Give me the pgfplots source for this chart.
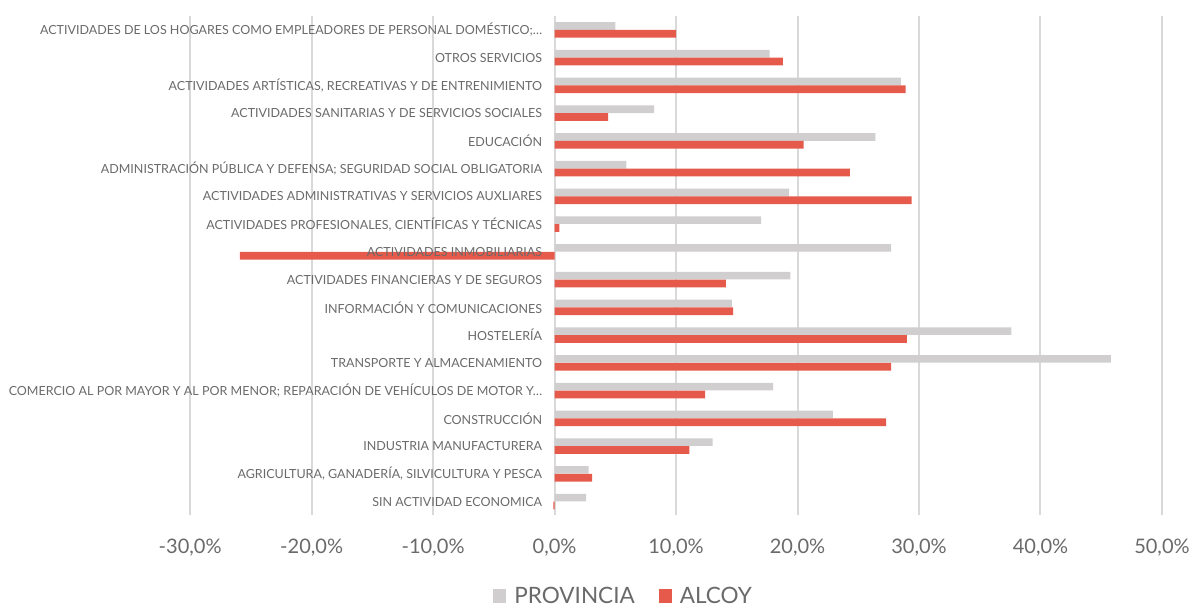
\documentclass[border=0pt]{standalone}
\usepackage{pgfplots}
\pgfplotsset{compat=1.18}
\usepackage{fontspec}
\setmainfont{Lato}
\definecolor{prov}{HTML}{D0CECE}
\definecolor{alc}{HTML}{E65A4B}
\definecolor{txt}{HTML}{6A6A6A}
\definecolor{grd}{HTML}{D9D9D9}
\pgfplotsset{
  layers/labels top/.define layer set={
    axis background,axis grid,axis ticks,axis lines,main,axis tick labels,
    axis descriptions,axis foreground}{/pgfplots/layers/standard},
}

\begin{document}
\begin{tikzpicture}
\begin{axis}[
    set layers=labels top,
    scale only axis, width=971pt, height=499pt,
    xbar, bar width=7.6pt,
    xmin=-30, xmax=50, ymin=-0.5, ymax=17.5,
    y dir=reverse,
    axis y line*=middle, axis x line*=bottom,
    x axis line style={draw=none},
    y axis line style={draw=grd, line width=2pt},
    xtick={-30,-20,...,50},
    xticklabel={\pgfmathprintnumber[fixed,fixed zerofill,precision=1,use comma]{\tick}\%},
    /pgf/number format/assume math mode=true,
    xticklabel style={font=\fontsize{20}{20}\selectfont, text=txt, yshift=-20pt},
    ytick={0,...,17},
    yticklabels={
      {ACTIVIDADES DE LOS HOGARES COMO EMPLEADORES DE PERSONAL DOMÉSTICO;…},
      {OTROS SERVICIOS},
      {ACTIVIDADES ARTÍSTICAS, RECREATIVAS Y DE ENTRENIMIENTO},
      {ACTIVIDADES SANITARIAS Y DE SERVICIOS SOCIALES},
      {EDUCACIÓN},
      {ADMINISTRACIÓN PÚBLICA Y DEFENSA; SEGURIDAD SOCIAL OBLIGATORIA},
      {ACTIVIDADES ADMINISTRATIVAS Y SERVICIOS AUXLIARES},
      {ACTIVIDADES PROFESIONALES, CIENTÍFICAS Y TÉCNICAS},
      {ACTIVIDADES INMOBILIARIAS},
      {ACTIVIDADES FINANCIERAS Y DE SEGUROS},
      {INFORMACIÓN Y COMUNICACIONES},
      {HOSTELERÍA},
      {TRANSPORTE Y ALMACENAMIENTO},
      {COMERCIO AL POR MAYOR Y AL POR MENOR; REPARACIÓN DE VEHÍCULOS DE MOTOR Y…},
      {CONSTRUCCIÓN},
      {INDUSTRIA MANUFACTURERA},
      {AGRICULTURA, GANADERÍA, SILVICULTURA Y PESCA},
      {SIN ACTIVIDAD ECONOMICA}},
    yticklabel style={font=\fontsize{12.5}{12.5}\selectfont, text=txt, xshift=-9pt},
    major tick length=0pt,
    xmajorgrids, grid style={draw=grd, line width=2pt},
    legend style={at={(0.446,-0.136)}, anchor=north, draw=none, legend columns=-1,
      font=\fontsize{22.5}{22.5}\selectfont, text=txt,
      /tikz/every even column/.append style={column sep=22pt}},
    legend image code/.code={\fill[#1] (0pt,-7pt) rectangle (13pt,7pt);},
]
\addplot[fill=prov, draw=none, bar shift=3.9pt] coordinates {
(5.0,0) (17.7,1) (28.5,2) (8.2,3) (26.4,4) (5.9,5) (19.3,6) (17.0,7) (27.7,8)
(19.4,9) (14.6,10) (37.6,11) (45.8,12) (18.0,13) (22.9,14) (13.0,15) (2.8,16) (2.6,17)};
\addplot[fill=alc, draw=none, bar shift=-3.9pt] coordinates {
(10.0,0) (18.8,1) (28.9,2) (4.4,3) (20.5,4) (24.3,5) (29.4,6) (0.4,7) (-25.9,8)
(14.1,9) (14.7,10) (29.0,11) (27.7,12) (12.4,13) (27.3,14) (11.1,15) (3.1,16) (-0.1,17)};
\legend{\hspace{6pt}PROVINCIA, \hspace{6pt}ALCOY}
\end{axis}
\path ([yshift=16pt]current axis.north) ([xshift=-190pt]current axis.west);
\end{tikzpicture}
\end{document}
